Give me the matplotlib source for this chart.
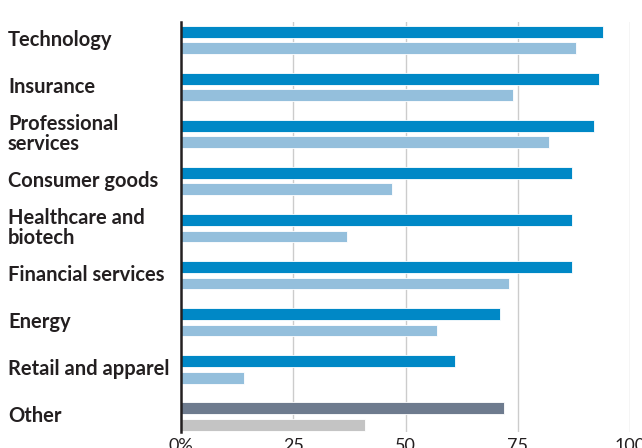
import matplotlib.pyplot as plt
import matplotlib.transforms as mtransforms
import numpy as np

categories = ['Technology', 'Insurance', 'Professional\nservices', 'Consumer goods',
              'Healthcare and\nbiotech', 'Financial services', 'Energy',
              'Retail and apparel', 'Other']
series_a = [94, 93, 92, 87, 87, 87, 71, 61, 72]
series_b = [88, 74, 82, 47, 37, 73, 57, 14, 41]
x_ticks = [0, 25, 50, 75, 100]
x_labels = ['0%', '25', '50', '75', '100']

dark = ['#0088c6'] * 8 + ['#6e7b8e']
light = ['#94bfdc'] * 8 + ['#c4c4c4']
text_col = '#231f20'
font = ['Lato', 'DejaVu Sans']

fig = plt.figure(figsize=(6.42, 4.48), dpi=100)
ax = fig.add_axes([181 / 642, 16 / 448, 449 / 642, 410 / 448])

y = np.arange(len(categories))
h = 0.25
ax.barh(y - 0.175, series_a, height=h, color=dark, edgecolor='white', linewidth=0.6, zorder=3)
ax.barh(y + 0.175, series_b, height=h, color=light, edgecolor='white', linewidth=0.6, zorder=3)

ax.set_xlim(0, 100)
ax.set_ylim(8.33, -0.38)
ax.set_xticks(x_ticks)
ax.set_xticklabels(x_labels, fontsize=13, color=text_col, family=font)
ax.set_yticks([])
ax.tick_params(axis='x', length=0, pad=4)
for xv in x_ticks[1:]:
    ax.axvline(xv, color='#cccccc', linewidth=1, zorder=1)

for s in ['top', 'right', 'bottom']:
    ax.spines[s].set_visible(False)
ax.spines['left'].set_color(text_col)
ax.spines['left'].set_linewidth(1.8)
ax.spines['left'].set_zorder(4)

# category labels: x in figure pixels, y in data
lab_tr = mtransforms.blended_transform_factory(
    mtransforms.Affine2D().scale(1.0), ax.transData)
for yi, cat in zip(y, categories):
    ax.text(8, yi, cat, transform=lab_tr, fontsize=14.5,
            fontweight='bold', family=font, color=text_col, va='center', ha='left',
            linespacing=1.0)

fig.savefig('out.png', dpi=100)
